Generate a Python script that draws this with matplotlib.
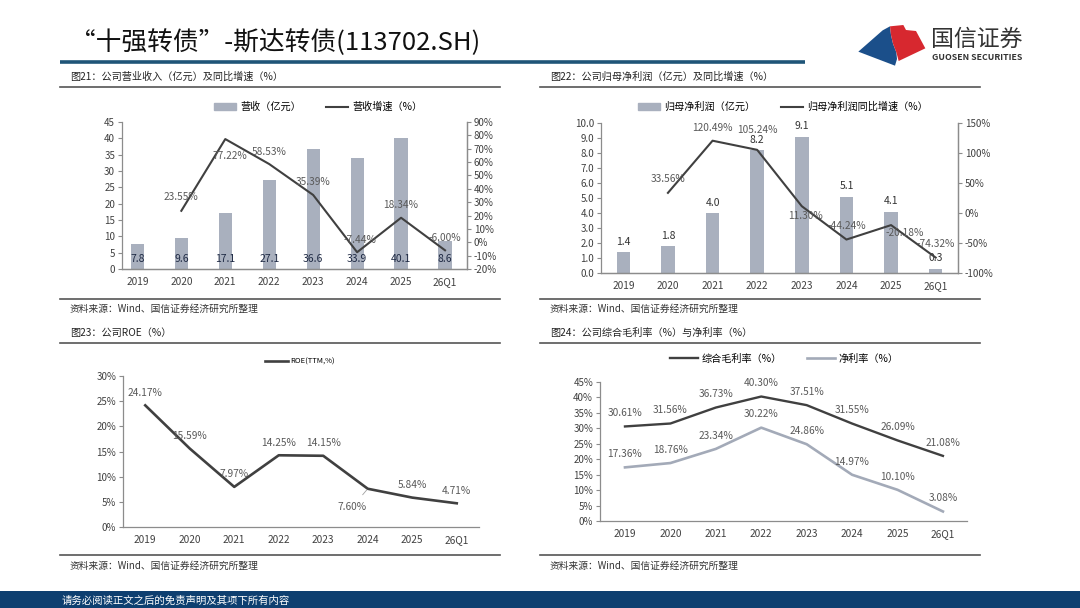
import matplotlib
matplotlib.use('Agg')
import matplotlib.pyplot as plt
from matplotlib.patches import Polygon, Rectangle, Patch
from matplotlib.lines import Line2D
from matplotlib.ticker import FuncFormatter

plt.rcParams['font.family'] = ['Noto Sans CJK SC', 'DejaVu Sans']

# ---------------- data ----------------
categories = ['2019', '2020', '2021', '2022', '2023', '2024', '2025', '26Q1']
revenue = [7.8, 9.6, 17.1, 27.1, 36.6, 33.9, 40.1, 8.6]
revenue_growth = [None, 23.55, 77.22, 58.53, 35.39, -7.44, 18.34, -6.00]
net_profit = [1.4, 1.8, 4.0, 8.2, 9.1, 5.1, 4.1, 0.3]
net_profit_growth = [None, 33.56, 120.49, 105.24, 11.30, -44.24, -20.18, -74.32]
roe = [24.17, 15.59, 7.97, 14.25, 14.15, 7.60, 5.84, 4.71]
gross_margin = [30.61, 31.56, 36.73, 40.30, 37.51, 31.55, 26.09, 21.08]
net_margin = [17.36, 18.76, 23.34, 30.22, 24.86, 14.97, 10.10, 3.08]

main_title = '“十强转债”-斯达转债(113702.SH)'
t21 = '图21：公司营业收入（亿元）及同比增速（%）'
t22 = '图22：公司归母净利润（亿元）及同比增速（%）'
t23 = '图23：公司ROE（%）'
t24 = '图24：公司综合毛利率（%）与净利率（%）'
source = '资料来源：Wind、国信证券经济研究所整理'
footer = '请务必阅读正文之后的免责声明及其项下所有内容'

# ---------------- style ----------------
W, H = 1080, 608
BAR = '#a9b0be'
LINE = '#404040'
LIGHT = '#a3aab8'
LBL = '#595959'
BARLBL = '#1f2a44'
SPINE = '#8c8c8c'
TICK = '#404040'

fig = plt.figure(figsize=(10.8, 6.08), dpi=100)


def rect(l, t, r, b):
    return [l / W, 1 - b / H, (r - l) / W, (b - t) / H]


deco = fig.add_axes([0, 0, 1, 1], zorder=-5)
deco.set_xlim(0, W)
deco.set_ylim(H, 0)
deco.axis('off')

# header
deco.text(70, 43, main_title, fontsize=18.5, va='center', ha='left', color='#111111')
deco.plot([60, 805], [61.5, 61.5], color='#1f5578', lw=2.6, solid_capstyle='butt')
# logo
def zc(pts):
    return [(850 + x / 3, 15 + y / 3) for x, y in pts]
deco.add_patch(Polygon(zc([(25, 110), (98, 46), (120, 34), (123, 60), (129, 86), (139, 112), (141, 132), (135, 152)]),
                       closed=True, color='#1b4f8a', lw=0))
deco.add_patch(Polygon(zc([(120, 34), (160, 30), (168, 45), (198, 48), (226, 100), (146, 138), (139, 112), (129, 86), (123, 60)]),
                       closed=True, color='#d7282f', lw=0))
deco.text(931, 39, '国信证券', fontsize=16.5, va='center', ha='left', color='#333333')
deco.text(932, 58, 'GUOSEN SECURITIES', fontsize=6.3, va='center', ha='left', color='#333333', fontweight='bold')

# footer
deco.add_patch(Rectangle((0, 591), W, 17, color='#0e3f70', lw=0))
deco.text(62, 601, footer, fontsize=7.5, color='white', va='center', ha='left')

# panel frames
for (x0, x1, ty, ly, by, sy, title) in [
    (60, 500, 77, 87, 299, 309, t21),
    (540, 980, 77, 87, 299, 309, t22),
    (60, 500, 333, 343, 555, 566, t23),
    (540, 980, 333, 343, 555, 566, t24),
]:
    deco.text(x0 + 10, ty, title, fontsize=7.3, va='center', ha='left', color='#222222')
    deco.plot([x0, x1], [ly, ly], color='#555555', lw=1.2)
    deco.plot([x0, x1], [by, by], color='#555555', lw=1.2)
    deco.text(x0 + 10, sy, source, fontsize=7.0, va='center', ha='left', color='#333333')


def style(ax, right=False):
    ax.spines['top'].set_visible(False)
    for s in ['left', 'bottom', 'right']:
        ax.spines[s].set_color(SPINE)
        ax.spines[s].set_linewidth(0.9)
    if not right:
        ax.spines['right'].set_visible(False)
    ax.tick_params(axis='y', labelsize=7, colors=TICK, length=3, width=0.8, color=SPINE, pad=2)
    ax.tick_params(axis='x', labelsize=7.3, colors=TICK, length=0, pad=6)
    ax.set_facecolor('none')


pct = FuncFormatter(lambda v, p: f'{v:.0f}%')
x = list(range(len(categories)))

# ---------------- 图21 ----------------
ax1 = fig.add_axes(rect(122, 122, 467, 269))
ax1.bar(x, revenue, width=0.3, color=BAR, zorder=2)
ax1.set_xlim(-0.35, 7.5)
ax1.set_ylim(0, 45)
ax1.set_yticks(range(0, 46, 5))
ax1.set_xticks(x)
ax1.set_xticklabels(categories)
style(ax1, right=True)
for i, v in enumerate(revenue):
    ax1.text(i, 3, f'{v:.1f}', ha='center', va='center', fontsize=7.5, color=BARLBL, zorder=5)
ax1b = ax1.twinx()
gx = [i for i, v in enumerate(revenue_growth) if v is not None]
gy = [v for v in revenue_growth if v is not None]
ax1b.plot(gx, gy, color=LINE, lw=1.5, zorder=4)
ax1b.set_ylim(-20, 90)
ax1b.set_yticks(range(-20, 91, 10))
ax1b.yaxis.set_major_formatter(pct)
style(ax1b, right=True)
ax1b.spines['left'].set_visible(False)
off1 = {1: (0, 10), 2: (3, -12), 3: (0, 9), 4: (0, 9), 5: (2, 9), 6: (0, 9), 7: (0, 9)}
for i, v in zip(gx, gy):
    ax1b.annotate(f'{v:.2f}%', (i, v), xytext=off1[i], textcoords='offset points',
                  ha='center', va='center', fontsize=7.3, color=LBL, zorder=6)
fig.legend([Patch(color=BAR), Line2D([], [], color=LINE, lw=1.5)], ['营收（亿元）', '营收增速（%）'],
           loc='center', bbox_to_anchor=(318 / W, 1 - 107 / H), ncol=2, frameon=False,
           fontsize=7.3, handlelength=2.2, handleheight=0.6, columnspacing=2.5, handletextpad=0.4)

# ---------------- 图22 ----------------
ax2 = fig.add_axes(rect(601, 123, 958, 273))
ax2.bar(x, net_profit, width=0.3, color=BAR, zorder=2)
ax2.set_xlim(-0.5, 7.5)
ax2.set_ylim(0, 10)
ax2.set_yticks(range(0, 11, 1))
ax2.yaxis.set_major_formatter(FuncFormatter(lambda v, p: f'{v:.1f}'))
ax2.set_xticks(x)
ax2.set_xticklabels(categories)
style(ax2, right=True)
for i, v in enumerate(net_profit):
    ax2.annotate(f'{v:.1f}', (i, v), xytext=(0, 7.5), textcoords='offset points',
                 ha='center', va='center', fontsize=7.5, color='#333333', zorder=5)
ax2b = ax2.twinx()
gx2 = [i for i, v in enumerate(net_profit_growth) if v is not None]
gy2 = [v for v in net_profit_growth if v is not None]
ax2b.plot(gx2, gy2, color=LINE, lw=1.5, zorder=4)
ax2b.set_ylim(-100, 150)
ax2b.set_yticks(range(-100, 151, 50))
ax2b.yaxis.set_major_formatter(pct)
style(ax2b, right=True)
ax2b.spines['left'].set_visible(False)
off2 = {1: (0, 10), 2: (0, 9.5), 3: (0, 14), 4: (3, -7), 5: (0, 10), 6: (10, -6), 7: (0, 9.5)}
for i, v in zip(gx2, gy2):
    ax2b.annotate(f'{v:.2f}%', (i, v), xytext=off2[i], textcoords='offset points',
                  ha='center', va='center', fontsize=7.3, color=LBL, zorder=6)
fig.legend([Patch(color=BAR), Line2D([], [], color=LINE, lw=1.5)], ['归母净利润（亿元）', '归母净利润同比增速（%）'],
           loc='center', bbox_to_anchor=(783 / W, 1 - 107 / H), ncol=2, frameon=False,
           fontsize=7.3, handlelength=2.2, handleheight=0.6, columnspacing=2.5, handletextpad=0.4)

# ---------------- 图23 ----------------
ax3 = fig.add_axes(rect(123, 376, 479, 527))
ax3.plot(x, roe, color=LINE, lw=1.9, label='ROE(TTM,%)')
ax3.set_xlim(-0.5, 7.5)
ax3.set_ylim(0, 30)
ax3.set_yticks(range(0, 31, 5))
ax3.yaxis.set_major_formatter(pct)
ax3.set_xticks(x)
ax3.set_xticklabels(categories)
style(ax3)
for i, v in enumerate(roe):
    if i == 5:
        ax3.annotate(f'{v:.2f}%', (i, v), xytext=(-11, -13), textcoords='offset points',
                     ha='center', va='center', fontsize=7.3, color=LBL,
                     arrowprops=dict(arrowstyle='-', color='#a0a0a0', lw=0.6, shrinkA=4, shrinkB=1))
    else:
        ax3.annotate(f'{v:.2f}%', (i, v), xytext=(0, 9), textcoords='offset points',
                     ha='center', va='center', fontsize=7.3, color=LBL)
fig.legend([Line2D([], [], color=LINE, lw=1.9)], ['ROE(TTM,%)'], loc='center',
           bbox_to_anchor=(300 / W, 1 - 362 / H), frameon=False, fontsize=5.5,
           handlelength=3.0, handletextpad=0.2)

# ---------------- 图24 ----------------
ax4 = fig.add_axes(rect(600, 382, 967, 521))
ax4.plot(x, gross_margin, color=LINE, lw=1.7)
ax4.plot(x, net_margin, color=LIGHT, lw=1.9)
ax4.set_xlim(-0.55, 7.53)
ax4.set_ylim(0, 45)
ax4.set_yticks(range(0, 46, 5))
ax4.yaxis.set_major_formatter(pct)
ax4.set_xticks(x)
ax4.set_xticklabels(categories)
style(ax4)
for series in (gross_margin, net_margin):
    for i, v in enumerate(series):
        ax4.annotate(f'{v:.2f}%', (i, v), xytext=(0, 9.5), textcoords='offset points',
                     ha='center', va='center', fontsize=7.3, color=LBL)
fig.legend([Line2D([], [], color=LINE, lw=1.7), Line2D([], [], color=LIGHT, lw=1.9)],
           ['综合毛利率（%）', '净利率（%）'], loc='center',
           bbox_to_anchor=(784 / W, 1 - 359 / H), ncol=2, frameon=False,
           fontsize=7.3, handlelength=2.8, columnspacing=2.5, handletextpad=0.3)

fig.savefig('out.png', dpi=100)
